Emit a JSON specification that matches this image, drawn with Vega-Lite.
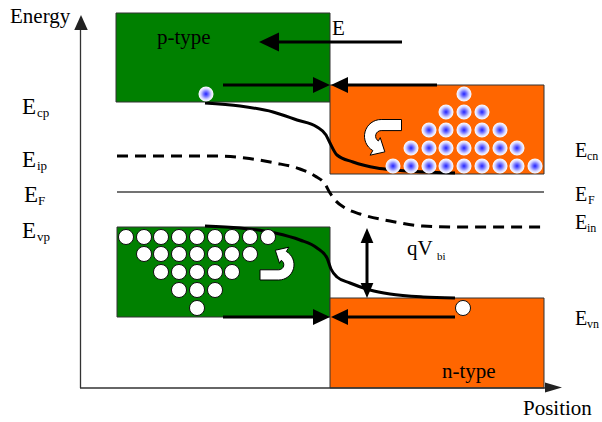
{
  "$schema": "https://vega.github.io/schema/vega-lite/v6.json",
  "width": 602,
  "height": 422,
  "padding": 0,
  "autosize": {"type": "fit", "contains": "padding"},
  "background": "white",
  "config": {"view": {"stroke": null}, "text": {"font": "Liberation Serif, Times New Roman, serif"}},
  "datasets": {
    "boxes": [
      {"x": 116, "x2": 330, "y": 13, "y2": 102, "type": "p"},
      {"x": 117, "x2": 330, "y": 227, "y2": 317, "type": "p"},
      {"x": 330, "x2": 544, "y": 85, "y2": 174, "type": "n"},
      {"x": 330, "x2": 544, "y": 298, "y2": 388, "type": "n"}
    ],
    "fermi": [{"x": 117, "x2": 544, "y": 192, "y2": 192}],
    "intrinsic": [
      {"x": 117, "y": 156}, {"x": 210, "y": 156}, {"x": 245, "y": 158}, {"x": 275, "y": 163},
      {"x": 300, "y": 169}, {"x": 315, "y": 176}, {"x": 325, "y": 184}, {"x": 330, "y": 193},
      {"x": 335, "y": 200}, {"x": 345, "y": 208}, {"x": 360, "y": 214}, {"x": 390, "y": 221},
      {"x": 423, "y": 226}, {"x": 460, "y": 227}, {"x": 544, "y": 227}
    ],
    "conduction": [
      {"x": 205, "y": 103}, {"x": 240, "y": 106}, {"x": 273, "y": 112}, {"x": 297, "y": 120},
      {"x": 317, "y": 127}, {"x": 326, "y": 135}, {"x": 330, "y": 143}, {"x": 337, "y": 155},
      {"x": 353, "y": 162}, {"x": 377, "y": 168}, {"x": 395, "y": 170}, {"x": 455, "y": 173}
    ],
    "valence": [
      {"x": 205, "y": 226}, {"x": 240, "y": 228}, {"x": 275, "y": 233}, {"x": 300, "y": 240},
      {"x": 317, "y": 248}, {"x": 327, "y": 258}, {"x": 331, "y": 269}, {"x": 337, "y": 277},
      {"x": 350, "y": 283}, {"x": 370, "y": 290}, {"x": 390, "y": 294}, {"x": 423, "y": 297},
      {"x": 455, "y": 298}
    ],
    "arrowLines": [
      {"x": 279, "x2": 402, "y": 42, "y2": 42},
      {"x": 223, "x2": 314, "y": 85, "y2": 85},
      {"x": 347, "x2": 437, "y": 85, "y2": 85},
      {"x": 223, "x2": 314, "y": 317, "y2": 317},
      {"x": 347, "x2": 455, "y": 317, "y2": 317},
      {"x": 367, "x2": 367, "y": 240, "y2": 288}
    ],
    "axisLines": [
      {"x": 80.5, "x2": 80.5, "y": 28, "y2": 388},
      {"x": 80, "x2": 546, "y": 388, "y2": 388}
    ],
    "headsRight": [{"x": 321.5, "y": 85}, {"x": 321.5, "y": 317}],
    "headsLeft": [{"x": 339.5, "y": 85}, {"x": 339.5, "y": 317}],
    "headE": [{"x": 269, "y": 42}],
    "headUp": [{"x": 367, "y": 235.5}],
    "headDown": [{"x": 367, "y": 290.5}],
    "axisHeadUp": [{"x": 81, "y": 22.5}],
    "axisHeadRight": [{"x": 553.5, "y": 387.5}],
    "electrons": [
      {"x": 206, "y": 94},
      {"x": 393, "y": 166}, {"x": 411, "y": 166}, {"x": 429, "y": 166}, {"x": 446, "y": 166}, {"x": 464, "y": 166}, {"x": 482, "y": 166}, {"x": 500, "y": 166}, {"x": 517, "y": 166}, {"x": 535, "y": 166},
      {"x": 411, "y": 148}, {"x": 429, "y": 148}, {"x": 446, "y": 148}, {"x": 464, "y": 148}, {"x": 482, "y": 148}, {"x": 500, "y": 148}, {"x": 517, "y": 148},
      {"x": 429, "y": 130}, {"x": 446, "y": 130}, {"x": 464, "y": 130}, {"x": 482, "y": 130}, {"x": 500, "y": 130},
      {"x": 446, "y": 112}, {"x": 464, "y": 112}, {"x": 482, "y": 112},
      {"x": 464, "y": 94}
    ],
    "holes": [
      {"x": 126, "y": 237}, {"x": 144, "y": 237}, {"x": 161, "y": 237}, {"x": 179, "y": 237}, {"x": 197, "y": 237}, {"x": 215, "y": 237}, {"x": 232, "y": 237}, {"x": 250, "y": 237}, {"x": 268, "y": 237},
      {"x": 144, "y": 254}, {"x": 161, "y": 254}, {"x": 179, "y": 254}, {"x": 197, "y": 254}, {"x": 215, "y": 254}, {"x": 232, "y": 254}, {"x": 250, "y": 254},
      {"x": 161, "y": 272}, {"x": 179, "y": 272}, {"x": 197, "y": 272}, {"x": 215, "y": 272}, {"x": 232, "y": 272},
      {"x": 179, "y": 290}, {"x": 197, "y": 290}, {"x": 215, "y": 290},
      {"x": 197, "y": 308},
      {"x": 463, "y": 308}
    ],
    "uturnN": [{"x": 383, "y": 138}],
    "uturnP": [{"x": 277, "y": 263}],
    "bigText": [
      {"x": 10, "y": 23, "text": "Energy"},
      {"x": 157, "y": 44, "text": "p-type"},
      {"x": 332, "y": 35, "text": "E"},
      {"x": 442, "y": 378, "text": "n-type"},
      {"x": 523, "y": 415, "text": "Position"},
      {"x": 407, "y": 255, "text": "qV"}
    ],
    "subBi": [{"x": 437, "y": 260, "text": "bi"}],
    "leftE": [
      {"x": 22, "y": 114, "text": "E"},
      {"x": 22, "y": 167, "text": "E"},
      {"x": 24, "y": 202, "text": "E"},
      {"x": 22, "y": 238, "text": "E"}
    ],
    "leftSub": [
      {"x": 37, "y": 117, "text": "cp"},
      {"x": 37, "y": 170, "text": "ip"},
      {"x": 38, "y": 205, "text": "F"},
      {"x": 37, "y": 241, "text": "vp"}
    ],
    "rightE": [
      {"x": 575, "y": 157, "text": "E"},
      {"x": 575, "y": 201, "text": "E"},
      {"x": 575, "y": 229, "text": "E"},
      {"x": 575, "y": 325, "text": "E"}
    ],
    "rightSub": [
      {"x": 587, "y": 160, "text": "cn"},
      {"x": 588, "y": 204, "text": "F"},
      {"x": 587, "y": 232, "text": "in"},
      {"x": 587, "y": 328, "text": "vn"}
    ]
  },
  "encoding": {
    "x": {"field": "x", "type": "quantitative", "scale": {"domain": [0, 602], "nice": false, "zero": false}, "axis": null},
    "y": {"field": "y", "type": "quantitative", "scale": {"domain": [0, 422], "nice": false, "zero": false, "reverse": true}, "axis": null}
  },
  "layer": [
    {
      "data": {"name": "boxes"},
      "mark": {"type": "rect", "stroke": "#333333", "strokeWidth": 1},
      "encoding": {
        "x2": {"field": "x2"},
        "y2": {"field": "y2"},
        "fill": {"field": "type", "type": "nominal", "scale": {"domain": ["p", "n"], "range": ["#008000", "#ff6600"]}, "legend": null}
      }
    },
    {
      "data": {"name": "fermi"},
      "mark": {"type": "rule", "color": "#444444", "strokeWidth": 1.5},
      "encoding": {"x2": {"field": "x2"}, "y2": {"field": "y2"}}
    },
    {
      "data": {"name": "intrinsic"},
      "mark": {"type": "line", "color": "black", "strokeWidth": 3, "strokeDash": [11, 7], "interpolate": "monotone"},
      "encoding": {}
    },
    {
      "data": {"name": "conduction"},
      "mark": {"type": "line", "color": "black", "strokeWidth": 3, "interpolate": "monotone"},
      "encoding": {}
    },
    {
      "data": {"name": "valence"},
      "mark": {"type": "line", "color": "black", "strokeWidth": 3, "interpolate": "monotone"},
      "encoding": {}
    },
    {
      "data": {"name": "arrowLines"},
      "mark": {"type": "rule", "color": "black", "strokeWidth": 3},
      "encoding": {"x2": {"field": "x2"}, "y2": {"field": "y2"}}
    },
    {
      "data": {"name": "axisLines"},
      "mark": {"type": "rule", "color": "#333333", "strokeWidth": 1.3},
      "encoding": {"x2": {"field": "x2"}, "y2": {"field": "y2"}}
    },
    {
      "data": {"name": "headsRight"},
      "mark": {"type": "point", "shape": "M 1 0 L -1 -0.95 L -1 0.95 Z", "size": 289, "filled": true, "color": "black", "opacity": 1}
    },
    {
      "data": {"name": "headsLeft"},
      "mark": {"type": "point", "shape": "M -1 0 L 1 -0.95 L 1 0.95 Z", "size": 289, "filled": true, "color": "black", "opacity": 1}
    },
    {
      "data": {"name": "headE"},
      "mark": {"type": "point", "shape": "M -1 0 L 1 -0.95 L 1 0.95 Z", "size": 400, "filled": true, "color": "black", "opacity": 1}
    },
    {
      "data": {"name": "headUp"},
      "mark": {"type": "point", "shape": "M 0 -1 L 0.85 1 L -0.85 1 Z", "size": 225, "filled": true, "color": "black", "opacity": 1}
    },
    {
      "data": {"name": "headDown"},
      "mark": {"type": "point", "shape": "M 0 1 L 0.85 -1 L -0.85 -1 Z", "size": 225, "filled": true, "color": "black", "opacity": 1}
    },
    {
      "data": {"name": "axisHeadUp"},
      "mark": {"type": "point", "shape": "M 0 -1 L 0.9 1 L -0.9 1 Z", "size": 225, "filled": true, "color": "#222222", "opacity": 1}
    },
    {
      "data": {"name": "axisHeadRight"},
      "mark": {"type": "point", "shape": "M 1 0 L -1 -0.6 L -1 0.6 Z", "size": 289, "filled": true, "color": "#222222", "opacity": 1}
    },
    {
      "data": {"name": "electrons"},
      "mark": {
        "type": "point", "shape": "circle", "size": 227, "filled": true, "opacity": 1, "strokeWidth": 0,
        "fill": {"gradient": "radial", "x1": 0.5, "y1": 0.5, "r1": 0, "x2": 0.5, "y2": 0.5, "r2": 0.5,
          "stops": [{"offset": 0, "color": "#2222ff"}, {"offset": 0.35, "color": "#7777ff"}, {"offset": 0.7, "color": "#d8d8ff"}, {"offset": 1, "color": "#ffffff"}]}
      }
    },
    {
      "data": {"name": "holes"},
      "mark": {"type": "point", "shape": "circle", "size": 227, "filled": true, "fill": "white", "stroke": "#111111", "strokeWidth": 1, "opacity": 1}
    },
    {
      "data": {"name": "uturnN"},
      "mark": {"type": "point", "shape": "M 1 -1 L -0.1 -1 A 0.9 0.9 0 0 0 -0.55 0.68 L -0.7 0.93 L 0.1 0.75 L -0.15 -0.02 L -0.25 0.16 A 0.3 0.3 0 0 1 -0.1 -0.4 L 1 -0.4 Z", "size": 1369, "filled": true, "fill": "white", "stroke": "black", "strokeWidth": 1, "opacity": 1}
    },
    {
      "data": {"name": "uturnP"},
      "mark": {"type": "point", "shape": "M 1 -1 L -0.1 -1 A 0.9 0.9 0 0 0 -0.55 0.68 L -0.7 0.93 L 0.1 0.75 L -0.15 -0.02 L -0.25 0.16 A 0.3 0.3 0 0 1 -0.1 -0.4 L 1 -0.4 Z", "size": 1156, "angle": 180, "filled": true, "fill": "white", "stroke": "black", "strokeWidth": 1, "opacity": 1}
    },
    {
      "data": {"name": "bigText"},
      "mark": {"type": "text", "fontSize": 21, "align": "left", "baseline": "alphabetic", "color": "black"},
      "encoding": {"text": {"field": "text"}}
    },
    {
      "data": {"name": "subBi"},
      "mark": {"type": "text", "fontSize": 11, "align": "left", "baseline": "alphabetic", "color": "black"},
      "encoding": {"text": {"field": "text"}}
    },
    {
      "data": {"name": "leftE"},
      "mark": {"type": "text", "fontSize": 23, "align": "left", "baseline": "alphabetic", "color": "black"},
      "encoding": {"text": {"field": "text"}}
    },
    {
      "data": {"name": "leftSub"},
      "mark": {"type": "text", "fontSize": 13, "align": "left", "baseline": "alphabetic", "color": "black"},
      "encoding": {"text": {"field": "text"}}
    },
    {
      "data": {"name": "rightE"},
      "mark": {"type": "text", "fontSize": 20, "align": "left", "baseline": "alphabetic", "color": "black"},
      "encoding": {"text": {"field": "text"}}
    },
    {
      "data": {"name": "rightSub"},
      "mark": {"type": "text", "fontSize": 12, "align": "left", "baseline": "alphabetic", "color": "black"},
      "encoding": {"text": {"field": "text"}}
    }
  ]
}
